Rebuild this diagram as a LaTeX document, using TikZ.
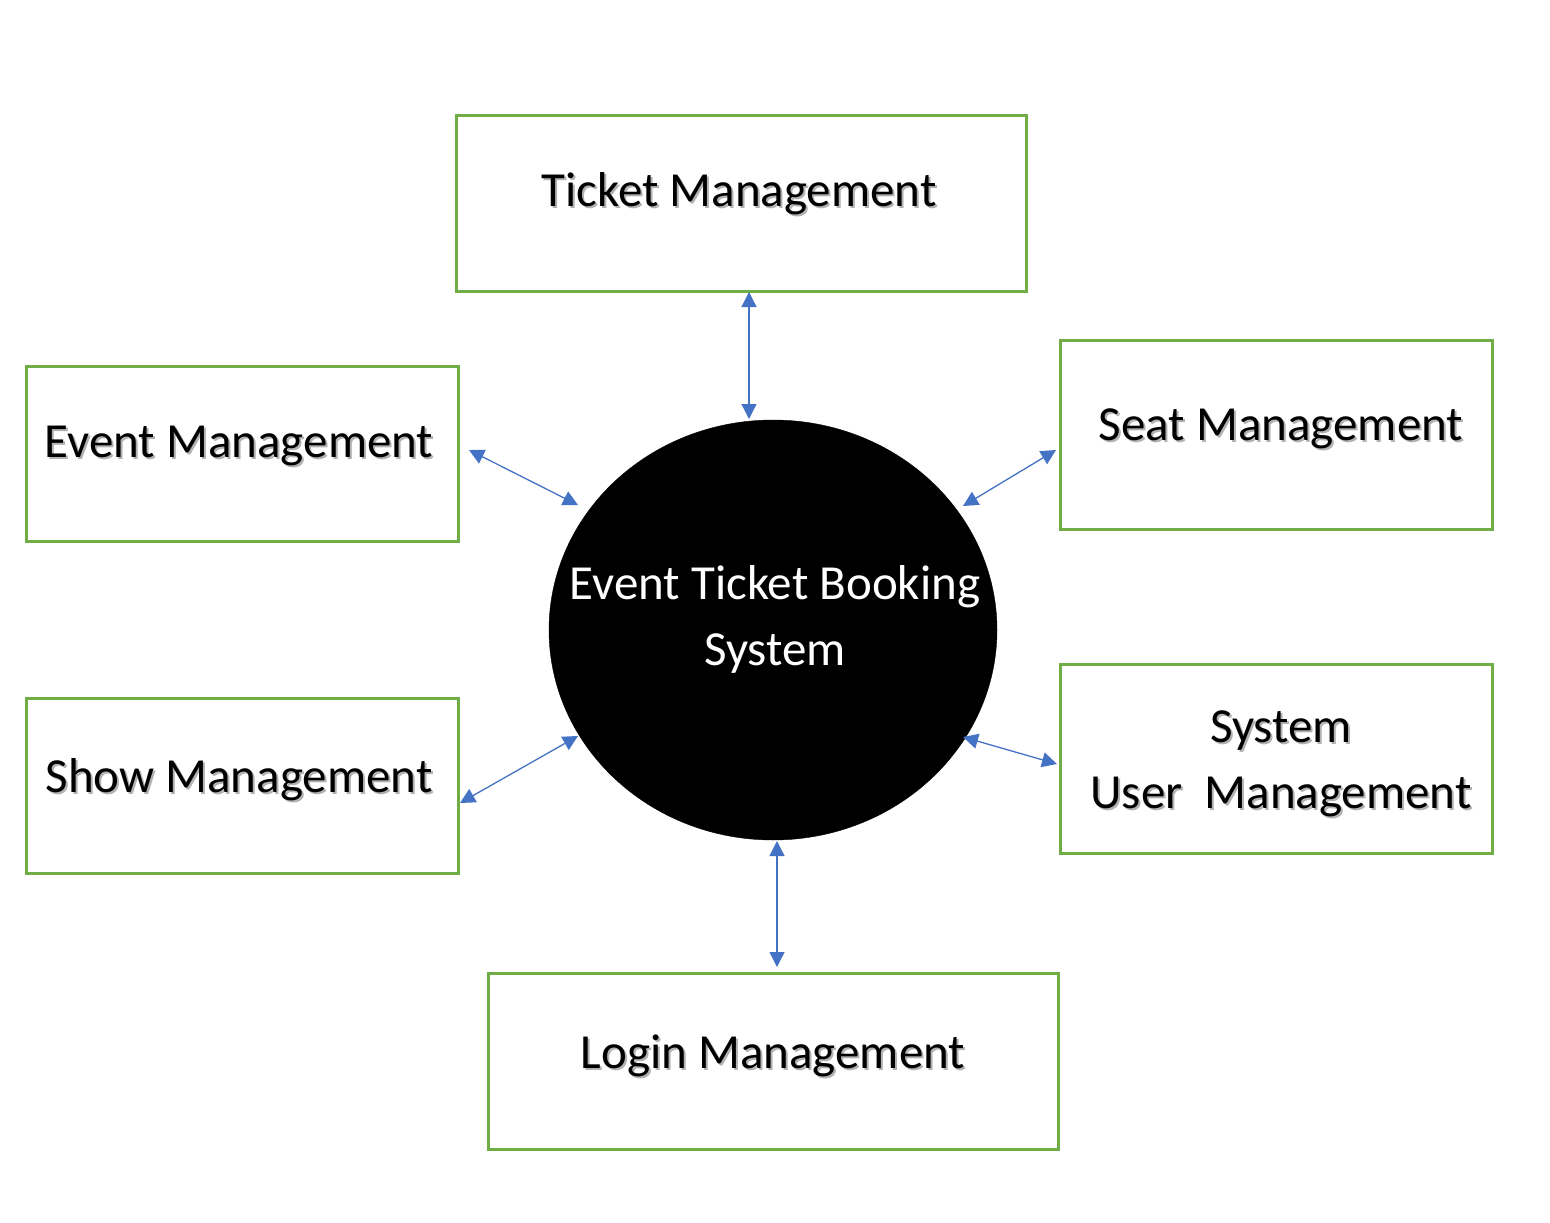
\documentclass[tikz,border=0pt]{standalone}
\usepackage{fontspec}
\setmainfont{Carlito}
\usetikzlibrary{arrows.meta,shapes.geometric,calc}
\definecolor{boxgreen}{HTML}{70AD47}
\definecolor{arrblue}{HTML}{4472C4}
\tikzset{
  mbox/.style={draw=boxgreen, line width=3pt, fill=white},
  lbl/.style={font=\fontsize{49}{66}\selectfont, text=black, align=center},
  shd/.style={font=\fontsize{49}{66}\selectfont, text=black!30, align=center},
  conn/.style={draw=arrblue, line width=1.3pt, {Triangle[length=15pt,width=15pt]}-{Triangle[length=15pt,width=15pt]}},
}
\newcommand{\shlabel}[3]{%
  \node[shd] at ($(#1)+(2pt,-2pt)$) {#3};
  \node[lbl] (#2) at (#1) {#3};}
\begin{document}
\begin{tikzpicture}[x=1pt,y=-1pt]
\useasboundingbox (0,0) rectangle (1550,1223);
% boxes
\draw[mbox] (456,115) rectangle (1026,291);
\draw[mbox] (26,366) rectangle (458,541);
\draw[mbox] (1060,340) rectangle (1492,529);
\draw[mbox] (26,698) rectangle (458,873);
\draw[mbox] (1060,664) rectangle (1492,853);
\draw[mbox] (488,973) rectangle (1058,1149);
% circle
\node[draw=black, fill=black, ellipse, minimum width=448pt, minimum height=420pt, inner sep=0pt] (hub) at (773,630) {};
% labels
\coordinate (pt) at (739,194);
\coordinate (pe) at (239,446);
\coordinate (ps) at (1281,429);
\coordinate (pw) at (239,780);
\coordinate (pu) at (1281,764);
\coordinate (pl) at (773,1056);
\shlabel{pt}{ticket}{Ticket Management}
\shlabel{pe}{event}{Event Management}
\shlabel{ps}{seat}{Seat Management}
\shlabel{pw}{show}{Show Management}
\shlabel{pu}{user}{System\\User\ \ Management}
\shlabel{pl}{login}{Login Management}
\node[lbl, text=white] (hubtxt) at (775,619) {Event Ticket Booking\\System};
% connector endpoints
\coordinate (a1) at (749,292); \coordinate (a2) at (749,419);
\coordinate (b1) at (469,450); \coordinate (b2) at (578,505);
\coordinate (c1) at (1056,450); \coordinate (c2) at (963,506);
\coordinate (d1) at (460,803); \coordinate (d2) at (578,736);
\coordinate (e1) at (1057,764); \coordinate (e2) at (963,737);
\coordinate (f1) at (777,841); \coordinate (f2) at (777,967);
\draw[conn] (a1) -- (a2);
\draw[conn] (b1) -- (b2);
\draw[conn] (c1) -- (c2);
\draw[conn] (d1) -- (d2);
\draw[conn] (e1) -- (e2);
\draw[conn] (f1) -- (f2);
\end{tikzpicture}
\end{document}
